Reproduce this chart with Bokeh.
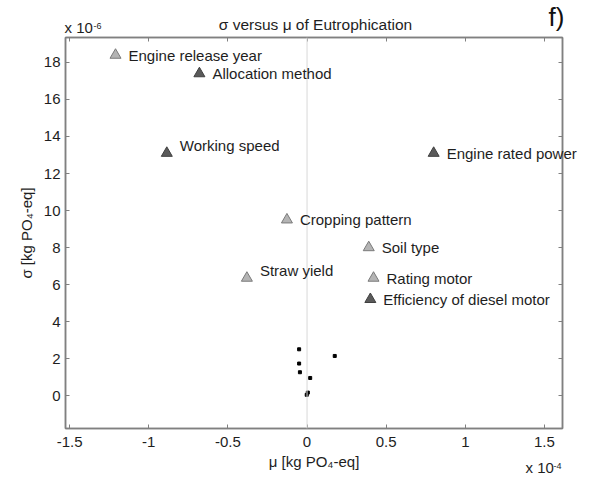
from bokeh.plotting import figure
from bokeh.models import (Range1d, LinearAxis, FixedTicker, Span, Label, LabelSet,
                          ColumnDataSource, GridBox, Plot)
from bokeh.layouts import column
from bokeh.core.properties import value
from bokeh.embed import file_html
from bokeh.resources import INLINE

# data (mu in 1e-4 kg PO4-eq, sigma in 1e-6 kg PO4-eq)
names = ["Engine release year", "Allocation method", "Working speed", "Engine rated power",
         "Cropping pattern", "Soil type", "Straw yield", "Rating motor", "Efficiency of diesel motor"]
mu = [-1.21, -0.68, -0.886, 0.80, -0.127, 0.39, -0.38, 0.42, 0.40]
sigma = [18.4, 17.4, 13.1, 13.1, 9.5, 8.0, 6.35, 6.35, 5.2]
group = ["light", "dark", "dark", "dark", "light", "light", "light", "light", "dark"]

dot_mu = [-0.05, -0.05, -0.045, 0.02, 0.005, -0.002, 0.175]
dot_sigma = [2.5, 1.73, 1.26, 0.95, 0.16, 0.04, 2.14]

x_ticks = [-1.5, -1, -0.5, 0, 0.5, 1, 1.5]
x_tick_labels = ["-1.5", "-1", "-0.5", "0", "0.5", "1", "1.5"]
y_ticks = [0, 2, 4, 6, 8, 10, 12, 14, 16, 18]
y_tick_labels = [str(t) for t in y_ticks]

W, H = 596, 482
BL, BR, BT, BB = 65, 34, 37, 54          # frame borders of the main plot
X0, X1 = -1.526, 1.614
Y0, Y1 = -1.78, 19.35

FONT = "Liberation Sans"
TXT = "#1e1e1e"
AXC = "#808080"
fill = {"light": "#b4b4b4", "dark": "#5a5a5a"}
edge = {"light": "#7a7a7a", "dark": "#404040"}
label_dy = {"Working speed": 8, "Straw yield": 8}

p = figure(width=W, height=H, output_backend="svg", toolbar_location=None,
           x_range=Range1d(X0, X1), y_range=Range1d(Y0, Y1),
           min_border_left=BL, min_border_right=BR, min_border_top=BT, min_border_bottom=BB)
p.xgrid.visible = False
p.ygrid.visible = False
p.outline_line_color = AXC
p.outline_line_width = 1.5
p.background_fill_color = "white"


def style_axis(ax, ticks, labels, show_labels):
    ax.ticker = FixedTicker(ticks=ticks)
    ax.major_label_overrides = {t: l for t, l in zip(ticks, labels)}
    ax.minor_tick_line_color = None
    ax.major_tick_in = 4
    ax.major_tick_out = 0
    ax.axis_line_color = AXC
    ax.axis_line_width = 1.5
    ax.major_tick_line_color = AXC
    ax.major_label_text_font = FONT
    ax.major_label_text_font_size = "15px" if show_labels else "0px"
    ax.major_label_text_color = TXT if show_labels else None
    ax.axis_label_text_font = FONT
    ax.axis_label_text_font_size = "15px"
    ax.axis_label_text_font_style = "normal"
    ax.axis_label_text_color = TXT


style_axis(p.xaxis[0], x_ticks, x_tick_labels, True)
style_axis(p.yaxis[0], y_ticks, y_tick_labels, True)
p.xaxis[0].axis_label = "μ [kg PO₄-eq]"
p.yaxis[0].axis_label = "σ [kg PO₄-eq]"
p.xaxis[0].major_label_standoff = 8
p.xaxis[0].axis_label_standoff = 3
p.yaxis[0].major_label_standoff = 5
p.yaxis[0].axis_label_standoff = 6

top = LinearAxis()
right = LinearAxis()
style_axis(top, x_ticks, x_tick_labels, False)
style_axis(right, y_ticks, y_tick_labels, False)
p.add_layout(top, "above")
p.add_layout(right, "right")

p.add_layout(Span(location=0, dimension="height", line_color="#d8d8d8", line_width=1))

src = ColumnDataSource(dict(x=mu, y=sigma, name=names,
                            fill=[fill[g] for g in group], edge=[edge[g] for g in group],
                            dy=[label_dy.get(n, 0) for n in names]))
p.scatter("x", "y", source=src, marker="triangle", size=11, fill_color="fill",
          line_color="edge", line_width=1)
p.scatter(dot_mu, dot_sigma, marker="square", size=3, fill_color="black", line_color="black")

# transparent overlay figure covering the whole canvas, same data scale,
# so texts that extend beyond the axes box are not clipped
sx = (W - BL - BR) / (X1 - X0)
sy = (H - BT - BB) / (Y1 - Y0)
ov = figure(width=W, height=H, output_backend="svg", toolbar_location=None,
            x_axis_type=None, y_axis_type=None,
            x_range=Range1d(X0 - BL / sx, X1 + BR / sx),
            y_range=Range1d(Y0 - BB / sy, Y1 + BT / sy),
            min_border_left=0, min_border_right=0, min_border_top=0, min_border_bottom=0)
ov.outline_line_color = None
ov.background_fill_color = None
ov.border_fill_color = None
ov.xgrid.visible = False
ov.ygrid.visible = False

ov.add_layout(LabelSet(x="x", y="y", text="name", source=src, x_offset=13, y_offset="dy",
                       text_font=value(FONT), text_font_size="15px", text_baseline="middle",
                       text_color=TXT))


# canvas-pixel texts (x from left, y measured from the top of the canvas)
def canvas_text(x, y_top, text, size, align="left", color=TXT):
    ov.add_layout(Label(x=x, y=H - y_top, x_units="screen", y_units="screen", text=text,
                        text_font=FONT, text_font_size=size, text_align=align,
                        text_baseline="bottom", text_color=color))


canvas_text(315, 32, "σ versus μ of Eutrophication", "15.5px", "center")
canvas_text(556, 31, "f)", "26px", "center", "#111111")
canvas_text(64, 35, "x 10", "15px")
canvas_text(93, 28, "-6", "9px")
canvas_text(525, 475, "x 10", "15px")
canvas_text(553, 468, "-4", "9px")

if "frame_align" in Plot.properties():
    p.frame_align = False
    ov.frame_align = False
    layout = GridBox(children=[(p, 0, 0), (ov, 0, 0)])
else:
    ov.margin = (-H, 0, 0, 0)
    layout = column(p, ov)

open("out.html", "w").write(file_html(layout, INLINE))
